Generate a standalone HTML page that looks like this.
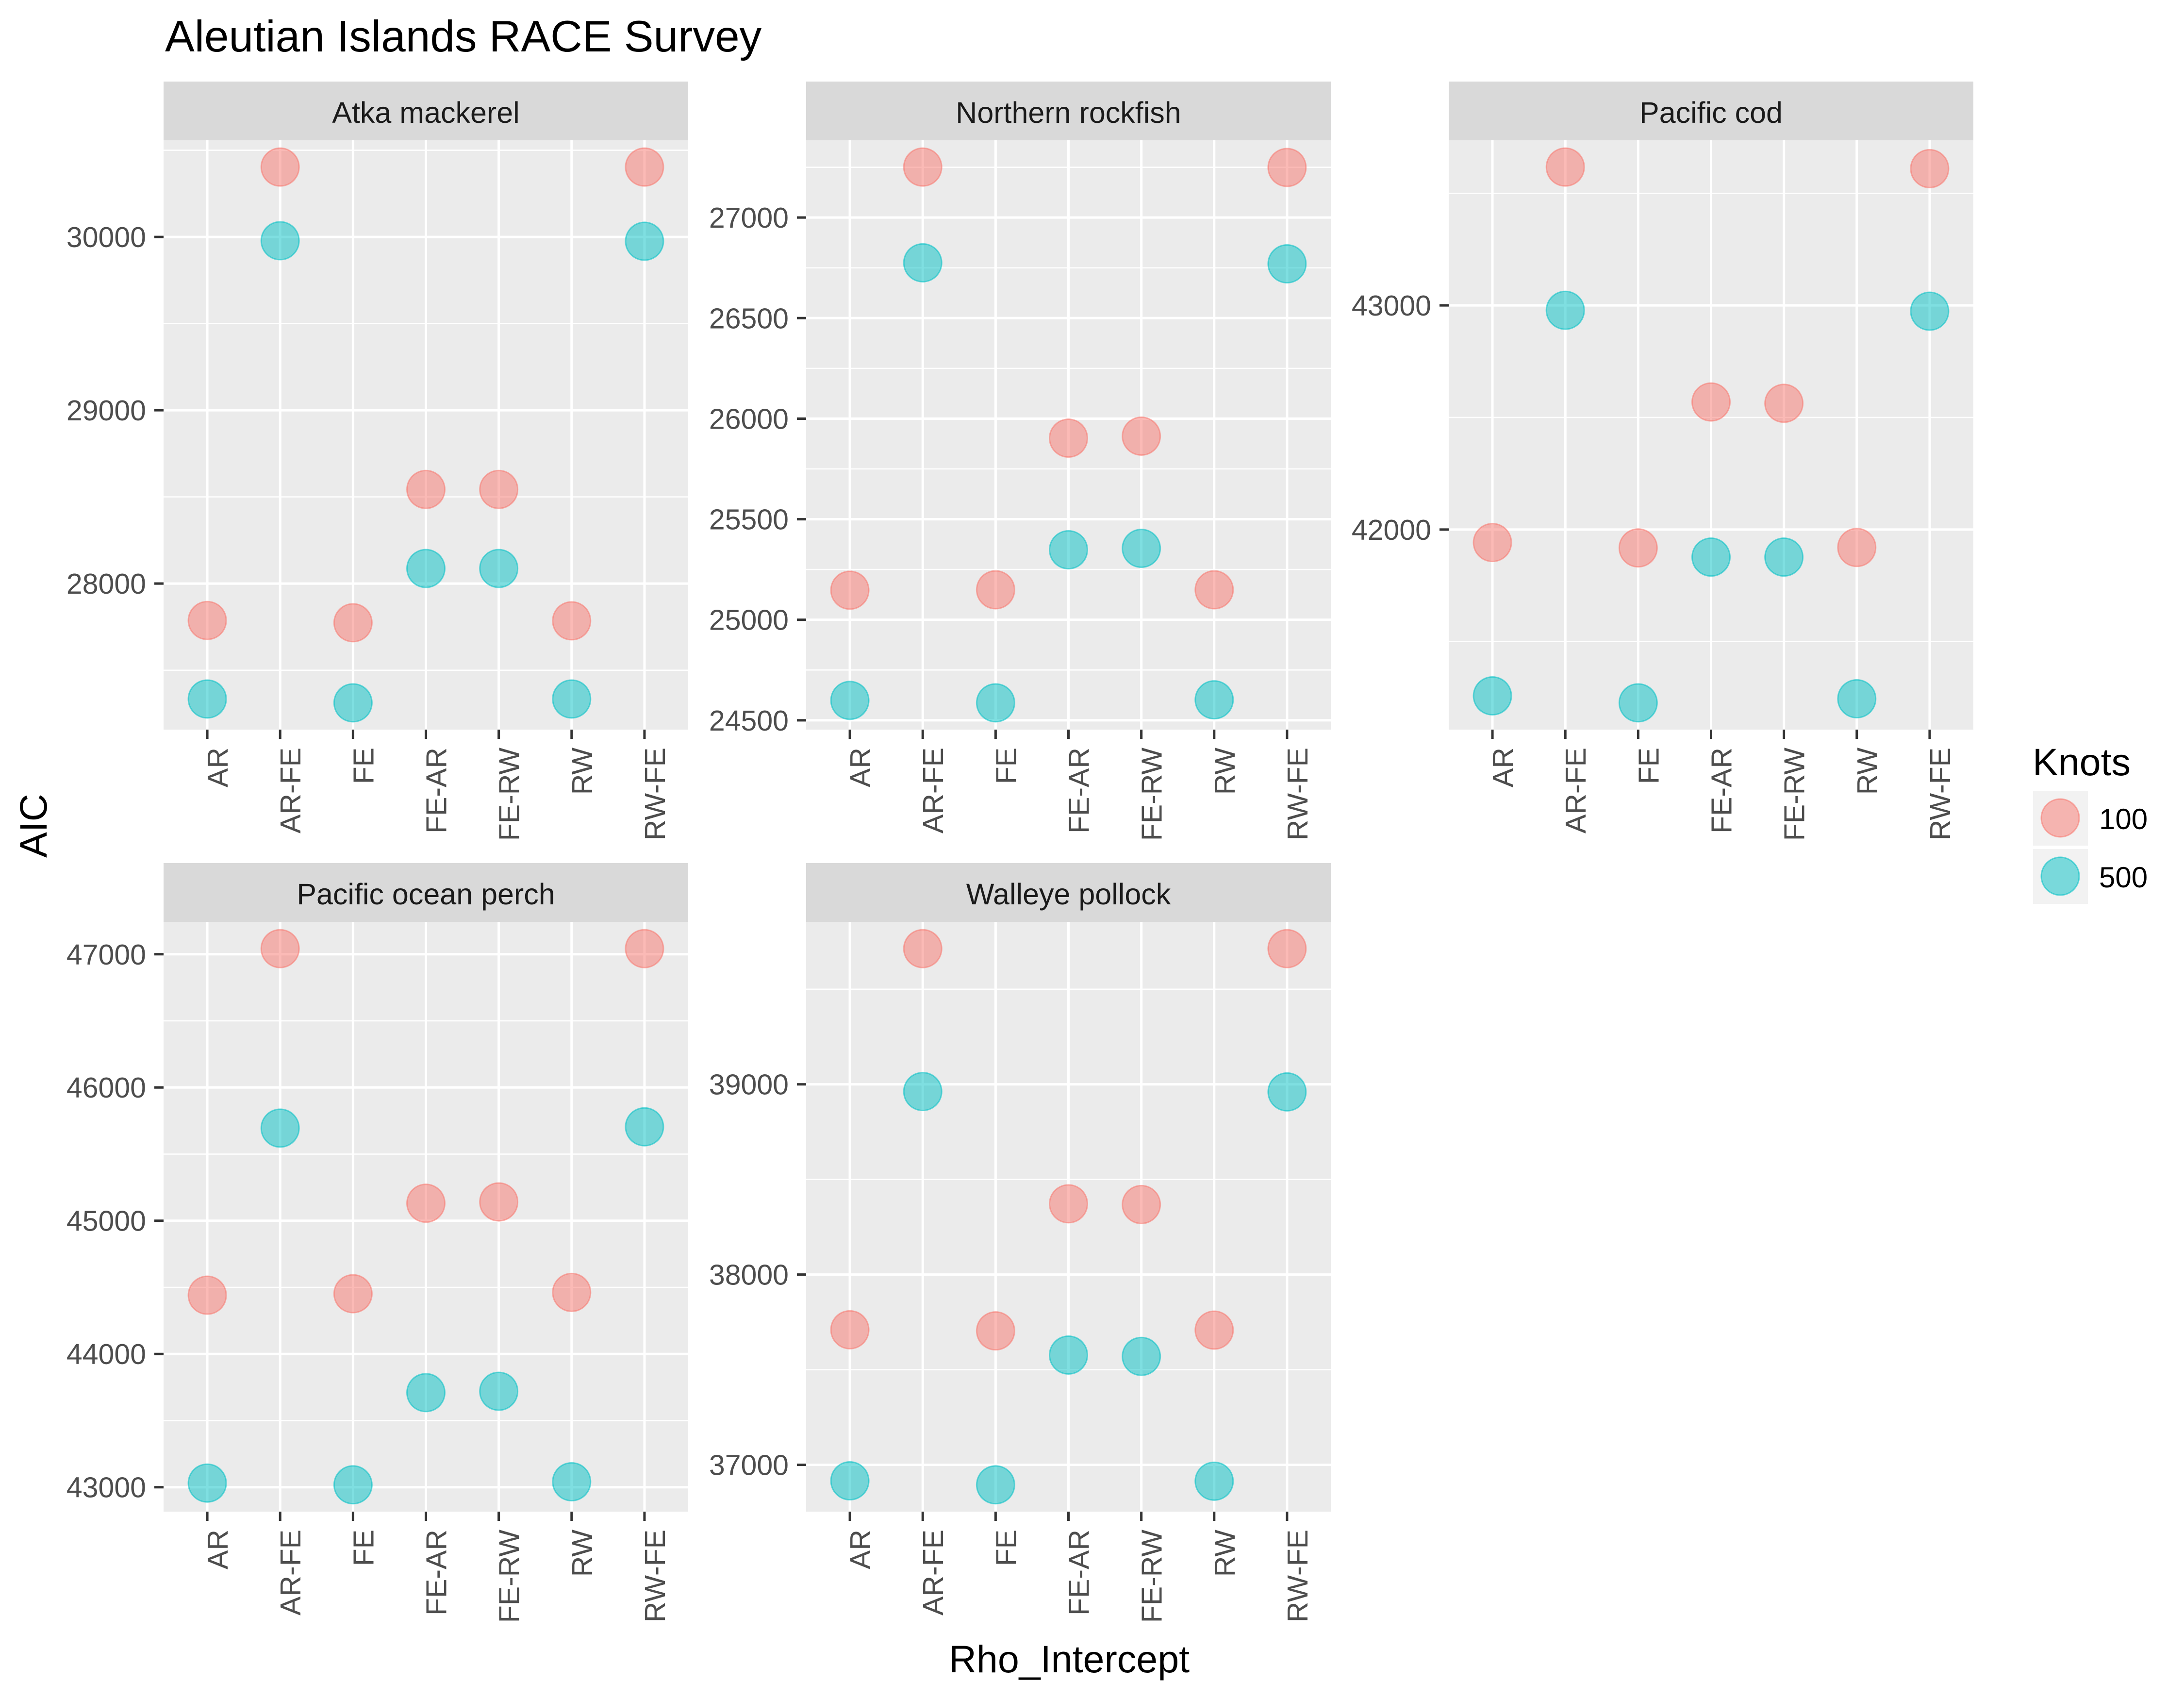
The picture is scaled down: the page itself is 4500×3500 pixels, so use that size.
<!DOCTYPE html>
<html><head><meta charset="utf-8"><style>
html,body{margin:0;padding:0;background:#fff;}
svg{display:block;font-family:"Liberation Sans",Arial,sans-serif;}
</style></head><body>
<svg id="chart" width="4500" height="3500" viewBox="0 0 4500 3500" xmlns="http://www.w3.org/2000/svg">
<rect x="0" y="0" width="4500" height="3500" fill="#ffffff"/>
<text x="340" y="106" font-size="91" fill="#000">Aleutian Islands RACE Survey</text>
<text transform="translate(96,1701) rotate(-90)" text-anchor="middle" font-size="79" fill="#000">AIC</text>
<text x="2203" y="3445" text-anchor="middle" font-size="79" fill="#000">Rho_Intercept</text>
<g>
<text x="4188" y="1597" font-size="79" fill="#000">Knots</text>
<rect x="4189" y="1629" width="113" height="113" fill="#F2F2F2"/>
<circle cx="4245" cy="1685" r="39" fill="rgba(248,118,109,0.5)" stroke="rgba(248,118,109,0.55)" stroke-width="3"/>
<text x="4325" y="1708" font-size="60" fill="#000">100</text>
<rect x="4189" y="1749" width="113" height="113" fill="#F2F2F2"/>
<circle cx="4245" cy="1805" r="39" fill="rgba(0,191,196,0.5)" stroke="rgba(0,191,196,0.55)" stroke-width="3"/>
<text x="4325" y="1828" font-size="60" fill="#000">500</text>
</g>
</svg>
<script>
const categories = ["AR","AR-FE","FE","FE-AR","FE-RW","RW","RW-FE"];
const panelNames = ["Atka mackerel","Northern rockfish","Pacific cod","Pacific ocean perch","Walleye pollock"];
const knots100 = [
  [27787,30403,27774,28543,28543,27785,30403],
  [25147,27251,25149,25903,25913,25149,27249],
  [41942,43617,41918,42569,42563,41920,43610],
  [44441,47042,44452,45131,45141,44462,47042]
];
knots100.push([37710,39713,37704,38372,38368,37708,39713]);
const knots500 = [
  [27334,29978,27312,28087,28087,27334,29975],
  [24599,26775,24587,25348,25355,24602,26770],
  [41258,42978,41227,41877,41877,41245,42974],
  [43031,45695,43018,43710,43720,43041,45705]
];
knots500.push([36916,38962,36895,37577,37570,36914,38960]);
const majorTicks = [
  [28000,29000,30000],
  [24500,25000,25500,26000,26500,27000],
  [42000,43000],
  [43000,44000,45000,46000,47000],
  [37000,38000,39000]
];

const NS="http://www.w3.org/2000/svg";
const svg=document.getElementById('chart');
function mk(tag,attrs,parent){const e=document.createElementNS(NS,tag);for(const k in attrs)e.setAttribute(k,attrs[k]);(parent||svg).appendChild(e);return e;}

const colX=[337,1661,2985], PW=1081;
const rowStrip=[[168,289,1503],[1778,1899,3114]];

panelNames.forEach((name,p)=>{
  const col=p%3,row=Math.floor(p/3);
  const x0=colX[col],x1=x0+PW;
  const [sTop,pTop,pBot]=rowStrip[row];
  const g=mk('g',{});
  
  
  const all=knots100[p].concat(knots500[p]);
  const mn=Math.min(...all),mx=Math.max(...all),r=mx-mn;
  const lo=mn-0.05*r,hi=mx+0.05*r;
  const yS=v=>pBot-(v-lo)/(hi-lo)*(pBot-pTop);
  const step=PW/7.2;
  const xS=i=>x0+(0.6+i)*step;
  // strip
  const st=mk('rect',{x:x0,y:sTop,width:PW,height:pTop-sTop,fill:'#D9D9D9'},g);
  
  
  const stt=mk('text',{x:(x0+x1)/2,y:sTop+85,'text-anchor':'middle','font-size':61,fill:'#1A1A1A'},g);
  stt.textContent=name;
  
  
  const bg=mk('rect',{x:x0,y:pTop,width:PW,height:pBot-pTop,fill:'#EBEBEB'},g);
  
  
  const mt=majorTicks[p];
  const d=mt.length>1?mt[1]-mt[0]:1000;
  // minor grid
  for(let v=mt[0]-d/2; v<=hi; v+=d){
    if(v<lo) continue;
    const l=mk('line',{x1:x0,x2:x1,y1:yS(v),y2:yS(v),stroke:'#fff','stroke-width':2.5},g);
    
    
  }
  mt.forEach(v=>{
    const y=yS(v);
    const l=mk('line',{x1:x0,x2:x1,y1:y,y2:y,stroke:'#fff','stroke-width':5},g);
    
    
    const t=mk('line',{x1:x0-19,x2:x0,y1:y,y2:y,stroke:'#333','stroke-width':5},g);
    
    
    const tl=mk('text',{x:x0-36,y:y+21,'text-anchor':'end','font-size':59,fill:'#4D4D4D'},g);
    tl.textContent=v;
    
    
  });
  categories.forEach((c,i)=>{
    const x=xS(i);
    const l=mk('line',{x1:x,x2:x,y1:pTop,y2:pBot,stroke:'#fff','stroke-width':5},g);
    
    
    const t=mk('line',{x1:x,x2:x,y1:pBot,y2:pBot+19,stroke:'#333','stroke-width':5},g);
    
    
    const tl=mk('text',{transform:`translate(${x+22},${pBot+37}) rotate(-90)`,'text-anchor':'end','dominant-baseline':'central','font-size':59,fill:'#4D4D4D'},g);
    tl.textContent=c;
    
    
  });
  categories.forEach((c,i)=>{
    const a=mk('circle',{cx:xS(i),cy:yS(knots100[p][i]),r:39,fill:'rgba(248,118,109,0.5)',stroke:'rgba(248,118,109,0.55)','stroke-width':3},g);
    
    
    const b=mk('circle',{cx:xS(i),cy:yS(knots500[p][i]),r:39,fill:'rgba(0,191,196,0.5)',stroke:'rgba(0,191,196,0.55)','stroke-width':3},g);
    
    
  });
});
</script>
</body></html>
